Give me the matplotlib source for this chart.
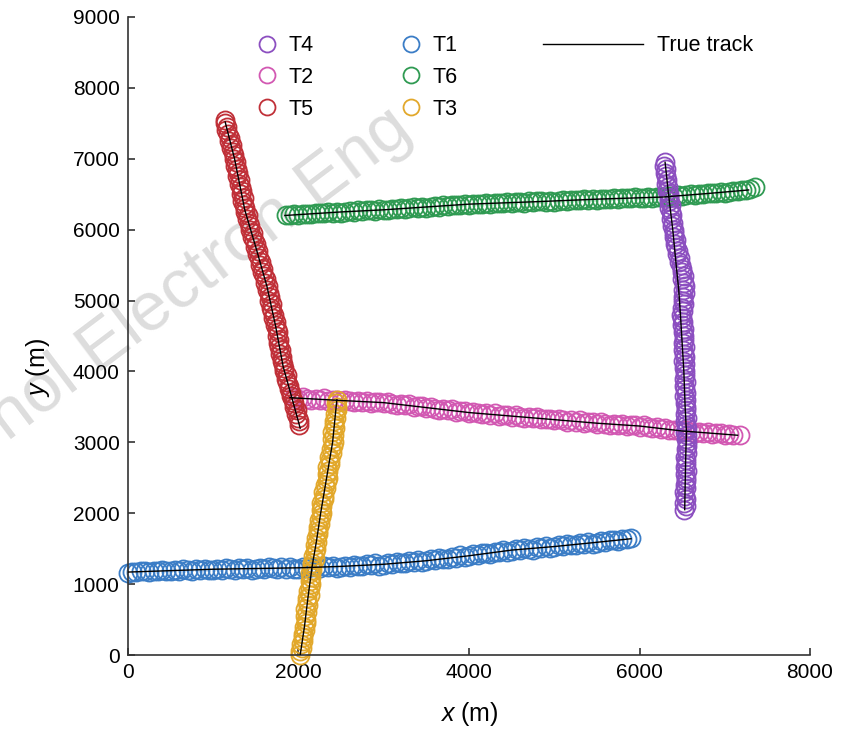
import matplotlib
matplotlib.use("Agg")
import matplotlib.pyplot as plt
from matplotlib.lines import Line2D

plt.rcParams['font.family'] = ['Liberation Sans', 'DejaVu Sans']
plt.rcParams['mathtext.fontset'] = 'custom'
plt.rcParams['mathtext.it'] = 'Liberation Sans:italic'
plt.rcParams['mathtext.rm'] = 'Liberation Sans'

t1_x = [0, 50, 100, 150, 200, 250, 300, 350, 400, 450, 500, 550, 600, 650, 700, 750, 800,
        850, 900, 950, 1000, 1050, 1100, 1150, 1200, 1250, 1300, 1350, 1400, 1450, 1500,
        1550, 1600, 1650, 1700, 1750, 1800, 1850, 1900, 1950, 2000, 2050, 2100, 2150, 2200,
        2250, 2300, 2350, 2400, 2450, 2500, 2550, 2600, 2650, 2700, 2750, 2800, 2850, 2900,
        2950, 3000, 3050, 3100, 3150, 3200, 3250, 3300, 3350, 3400, 3450, 3500, 3550, 3600,
        3650, 3700, 3750, 3800, 3850, 3900, 3950, 4000, 4050, 4100, 4150, 4200, 4250, 4300,
        4350, 4400, 4450, 4500, 4550, 4600, 4650, 4700, 4750, 4800, 4850, 4900, 4950, 5000,
        5050, 5100, 5150, 5200, 5250, 5300, 5350, 5400, 5450, 5500, 5550, 5600, 5650, 5700,
        5750, 5800, 5850, 5900]
t1_y = [1150, 1175, 1165, 1185, 1178, 1170, 1192, 1180, 1200, 1178, 1185, 1200, 1185, 1210,
        1198, 1185, 1210, 1200, 1220, 1195, 1205, 1220, 1200, 1225, 1212, 1200, 1225, 1212,
        1230, 1205, 1215, 1232, 1210, 1236, 1222, 1208, 1235, 1220, 1245, 1212, 1220, 1240,
        1222, 1248, 1235, 1222, 1250, 1238, 1262, 1230, 1242, 1262, 1245, 1275, 1262, 1250,
        1280, 1268, 1292, 1262, 1272, 1295, 1280, 1310, 1302, 1292, 1322, 1312, 1340, 1312,
        1322, 1348, 1335, 1365, 1360, 1350, 1385, 1375, 1405, 1380, 1392, 1420, 1410, 1442,
        1435, 1425, 1460, 1452, 1482, 1455, 1470, 1495, 1480, 1508, 1500, 1488, 1518, 1505,
        1535, 1505, 1520, 1545, 1532, 1562, 1555, 1545, 1578, 1568, 1600, 1570, 1580, 1605,
        1595, 1628, 1620, 1610, 1642, 1630, 1648]

t2_x = [1950, 2000, 2050, 2100, 2150, 2200, 2250, 2300, 2350, 2400, 2450, 2500, 2550, 2600,
        2650, 2700, 2750, 2800, 2850, 2900, 2950, 3000, 3050, 3100, 3150, 3200, 3250, 3300,
        3350, 3400, 3450, 3500, 3550, 3600, 3650, 3700, 3750, 3800, 3850, 3900, 3950, 4000,
        4050, 4100, 4150, 4200, 4250, 4300, 4350, 4400, 4450, 4500, 4550, 4600, 4650, 4700,
        4750, 4800, 4850, 4900, 4950, 5000, 5050, 5100, 5150, 5200, 5250, 5300, 5350, 5400,
        5450, 5500, 5550, 5600, 5650, 5700, 5750, 5800, 5850, 5900, 5950, 6000, 6050, 6100,
        6150, 6200, 6250, 6300, 6350, 6400, 6450, 6500, 6550, 6600, 6650, 6700, 6750, 6800,
        6850, 6900, 6950, 7000, 7050, 7100, 7180]
t2_y = [3637, 3615, 3635, 3617, 3601, 3618, 3602, 3621, 3590, 3600, 3603, 3582, 3602, 3584,
        3569, 3586, 3570, 3590, 3559, 3569, 3573, 3552, 3568, 3546, 3527, 3540, 3520, 3536,
        3501, 3507, 3507, 3482, 3498, 3476, 3457, 3470, 3450, 3466, 3431, 3437, 3437, 3412,
        3430, 3410, 3393, 3408, 3390, 3408, 3375, 3383, 3385, 3362, 3380, 3360, 3343, 3358,
        3340, 3358, 3325, 3333, 3335, 3312, 3330, 3310, 3293, 3308, 3290, 3308, 3275, 3283,
        3285, 3262, 3281, 3262, 3246, 3262, 3245, 3264, 3232, 3241, 3244, 3222, 3238, 3216,
        3197, 3210, 3190, 3206, 3171, 3177, 3177, 3152, 3170, 3151, 3134, 3150, 3132, 3150,
        3118, 3126, 3128, 3106, 3120, 3105, 3100]

t3_x = [2015, 2018, 2037, 2024, 2055, 2051, 2048, 2079, 2065, 2083, 2092, 2077, 2095, 2080,
        2110, 2105, 2100, 2131, 2116, 2135, 2144, 2130, 2148, 2134, 2164, 2160, 2157, 2189,
        2176, 2197, 2208, 2195, 2215, 2201, 2233, 2229, 2225, 2256, 2243, 2262, 2272, 2259,
        2279, 2266, 2298, 2295, 2292, 2324, 2311, 2331, 2342, 2329, 2349, 2336, 2368, 2365,
        2362, 2394, 2381, 2401, 2412, 2396, 2413, 2398, 2427, 2421, 2415, 2444, 2428, 2446,
        2454, 2438, 2455]
t3_y = [0, 50, 100, 150, 200, 250, 300, 350, 400, 450, 500, 550, 600, 650, 700, 750, 800,
        850, 900, 950, 1000, 1050, 1100, 1150, 1200, 1250, 1300, 1350, 1400, 1450, 1500,
        1550, 1600, 1650, 1700, 1750, 1800, 1850, 1900, 1950, 2000, 2050, 2100, 2150, 2200,
        2250, 2300, 2350, 2400, 2450, 2500, 2550, 2600, 2650, 2700, 2750, 2800, 2850, 2900,
        2950, 3000, 3050, 3100, 3150, 3200, 3250, 3300, 3350, 3400, 3450, 3500, 3550, 3600]

t4_x = [6299, 6290, 6313, 6296, 6311, 6322, 6309, 6335, 6326, 6340, 6349, 6341, 6365, 6349,
        6365, 6377, 6365, 6393, 6385, 6400, 6410, 6404, 6429, 6415, 6432, 6446, 6438, 6470,
        6466, 6485, 6498, 6494, 6518, 6503, 6519, 6531, 6509, 6528, 6510, 6515, 6516, 6499,
        6515, 6490, 6502, 6510, 6493, 6518, 6505, 6516, 6521, 6509, 6529, 6509, 6521, 6529,
        6512, 6536, 6524, 6535, 6539, 6526, 6545, 6524, 6535, 6542, 6525, 6548, 6535, 6545,
        6550, 6537, 6557, 6537, 6548, 6556, 6538, 6559, 6545, 6553, 6556, 6541, 6559, 6536,
        6546, 6551, 6532, 6553, 6538, 6546, 6548, 6533, 6550, 6527, 6535, 6540, 6521, 6542,
        6526]
t4_y = [6950, 6900, 6850, 6800, 6750, 6700, 6650, 6600, 6550, 6500, 6450, 6400, 6350, 6300,
        6250, 6200, 6150, 6100, 6050, 6000, 5950, 5900, 5850, 5800, 5750, 5700, 5650, 5600,
        5550, 5500, 5450, 5400, 5350, 5300, 5250, 5200, 5150, 5100, 5050, 5000, 4950, 4900,
        4850, 4800, 4750, 4700, 4650, 4600, 4550, 4500, 4450, 4400, 4350, 4300, 4250, 4200,
        4150, 4100, 4050, 4000, 3950, 3900, 3850, 3800, 3750, 3700, 3650, 3600, 3550, 3500,
        3450, 3400, 3350, 3300, 3250, 3200, 3150, 3100, 3050, 3000, 2950, 2900, 2850, 2800,
        2750, 2700, 2650, 2600, 2550, 2500, 2450, 2400, 2350, 2300, 2250, 2200, 2150, 2100,
        2050]

t5_x = [1140, 1133, 1166, 1151, 1174, 1193, 1185, 1218, 1212, 1234, 1249, 1242, 1272, 1255,
        1275, 1291, 1282, 1312, 1303, 1323, 1335, 1325, 1356, 1338, 1358, 1375, 1367, 1402,
        1397, 1420, 1437, 1431, 1465, 1451, 1476, 1496, 1490, 1524, 1519, 1541, 1557, 1551,
        1585, 1571, 1595, 1614, 1608, 1642, 1634, 1654, 1667, 1658, 1689, 1673, 1694, 1711,
        1702, 1733, 1725, 1744, 1756, 1745, 1775, 1757, 1777, 1792, 1782, 1812, 1803, 1821,
        1835, 1828, 1862, 1848, 1871, 1891, 1884, 1918, 1913, 1936, 1952, 1946, 1980, 1967,
        1991, 2011, 2005]
t5_y = [7550, 7500, 7450, 7400, 7350, 7300, 7250, 7200, 7150, 7100, 7050, 7000, 6950, 6900,
        6850, 6800, 6750, 6700, 6650, 6600, 6550, 6500, 6450, 6400, 6350, 6300, 6250, 6200,
        6150, 6100, 6050, 6000, 5950, 5900, 5850, 5800, 5750, 5700, 5650, 5600, 5550, 5500,
        5450, 5400, 5350, 5300, 5250, 5200, 5150, 5100, 5050, 5000, 4950, 4900, 4850, 4800,
        4750, 4700, 4650, 4600, 4550, 4500, 4450, 4400, 4350, 4300, 4250, 4200, 4150, 4100,
        4050, 4000, 3950, 3900, 3850, 3800, 3750, 3700, 3650, 3600, 3550, 3500, 3450, 3400,
        3350, 3300, 3250]

t6_x = [1850, 1900, 1950, 2000, 2050, 2100, 2150, 2200, 2250, 2300, 2350, 2400, 2450, 2500,
        2550, 2600, 2650, 2700, 2750, 2800, 2850, 2900, 2950, 3000, 3050, 3100, 3150, 3200,
        3250, 3300, 3350, 3400, 3450, 3500, 3550, 3600, 3650, 3700, 3750, 3800, 3850, 3900,
        3950, 4000, 4050, 4100, 4150, 4200, 4250, 4300, 4350, 4400, 4450, 4500, 4550, 4600,
        4650, 4700, 4750, 4800, 4850, 4900, 4950, 5000, 5050, 5100, 5150, 5200, 5250, 5300,
        5350, 5400, 5450, 5500, 5550, 5600, 5650, 5700, 5750, 5800, 5850, 5900, 5950, 6000,
        6050, 6100, 6150, 6200, 6250, 6300, 6350, 6400, 6450, 6500, 6550, 6600, 6650, 6700,
        6750, 6800, 6850, 6900, 6950, 7000, 7050, 7100, 7150, 7200, 7250, 7300, 7360]
t6_y = [6207, 6200, 6216, 6204, 6216, 6225, 6218, 6236, 6228, 6238, 6245, 6237, 6254, 6242,
        6253, 6261, 6253, 6271, 6262, 6271, 6277, 6269, 6285, 6272, 6284, 6293, 6286, 6305,
        6297, 6307, 6314, 6307, 6324, 6312, 6324, 6333, 6326, 6345, 6337, 6347, 6354, 6347,
        6364, 6352, 6362, 6369, 6360, 6378, 6368, 6376, 6381, 6373, 6388, 6374, 6384, 6391,
        6383, 6400, 6390, 6398, 6404, 6395, 6411, 6397, 6408, 6415, 6407, 6424, 6415, 6423,
        6429, 6420, 6436, 6422, 6432, 6439, 6430, 6447, 6437, 6445, 6450, 6441, 6456, 6442,
        6451, 6458, 6449, 6466, 6456, 6466, 6473, 6467, 6484, 6473, 6486, 6496, 6489, 6509,
        6502, 6513, 6521, 6515, 6534, 6523, 6536, 6546, 6540, 6561, 6554, 6570, 6595]

# true tracks (black lines)
true1_x = [0, 1000, 2000, 2500, 3000, 3500, 4000, 4500, 5000, 5500, 5900]
true1_y = [1170, 1210, 1230, 1250, 1280, 1330, 1400, 1480, 1530, 1590, 1640]
true2_x = [1900, 2500, 3000, 3500, 4000, 4500, 5000, 5500, 6000, 6500, 7150]
true2_y = [3630, 3590, 3560, 3490, 3420, 3370, 3320, 3270, 3230, 3160, 3100]
true3_x = [2020, 2070, 2110, 2160, 2210, 2260, 2330, 2400, 2450]
true3_y = [0, 400, 800, 1250, 1600, 2000, 2500, 3000, 3600]
true4_x = [6300, 6340, 6390, 6430, 6460, 6480, 6500, 6520, 6535, 6550, 6540, 6530]
true4_y = [6950, 6500, 6000, 5500, 5150, 4800, 4400, 4000, 3500, 3150, 2700, 2050]
true5_x = [1140, 1250, 1370, 1500, 1630, 1730, 1820, 1920, 2020]
true5_y = [7520, 7000, 6280, 5750, 5200, 4650, 4070, 3640, 3200]
true6_x = [1840, 2500, 3000, 3500, 4000, 4800, 5500, 6270, 6800, 7280]
true6_y = [6200, 6250, 6280, 6320, 6360, 6395, 6430, 6460, 6510, 6560]

colors = {'T1': '#3b7dc6', 'T2': '#d258b2', 'T3': '#e2a82b',
          'T4': '#8c4fc0', 'T5': '#c03038', 'T6': '#2f9a52'}

fig = plt.figure(figsize=(8.6, 7.29), dpi=100)
ax = fig.add_axes([0.1488, 0.1015, 0.7931, 0.8752])
ax.set_facecolor('none')
ax.set_zorder(1)

# watermark, behind the axes
fig.text(0.482, 0.815, 'nol Electron Eng', fontsize=50,
         color='#dddddd', rotation=37, rotation_mode='anchor',
         ha='right', va='baseline', zorder=0)

meas = [('T1', t1_x, t1_y), ('T2', t2_x, t2_y), ('T6', t6_x, t6_y),
        ('T4', t4_x, t4_y), ('T5', t5_x, t5_y), ('T3', t3_x, t3_y)]
for name, xs, ys in meas:
    ax.plot(xs, ys, linestyle='none', marker='o', ms=13, mfc='none',
            mec=colors[name], mew=1.3, clip_on=False)

for xs, ys in [(true1_x, true1_y), (true2_x, true2_y), (true3_x, true3_y),
               (true4_x, true4_y), (true5_x, true5_y), (true6_x, true6_y)]:
    ax.plot(xs, ys, color='black', lw=1.0, zorder=5)

ax.set_xlim(0, 8000)
ax.set_ylim(0, 9000)
ax.set_xticks([0, 2000, 4000, 6000, 8000])
ax.set_yticks(range(0, 9001, 1000))
ax.spines['top'].set_visible(False)
ax.spines['right'].set_visible(False)
for s in ['left', 'bottom']:
    ax.spines[s].set_linewidth(1.2)
    ax.spines[s].set_color('#333333')
ax.tick_params(direction='in', length=5, width=1.2, color='#333333',
               labelsize=15, pad=6)
ax.set_xlabel('$x$ (m)', fontsize=18, labelpad=13)
ax.set_ylabel('$y$ (m)', fontsize=18)
ax.yaxis.set_label_coords(-0.112, 0.45)

order = ['T4', 'T2', 'T5', 'T1', 'T6', 'T3']
handles = [Line2D([], [], linestyle='none', marker='o', ms=11.5, mfc='none',
                  mec=colors[n], mew=1.3) for n in order]
leg1 = ax.legend(handles, order, ncol=2, frameon=False, fontsize=15.5,
                 loc='upper left', bbox_to_anchor=(0.16, 1.002),
                 handlelength=1.0, handletextpad=0.5, columnspacing=4.0,
                 labelspacing=0.5)
ax.add_artist(leg1)
ax.legend([Line2D([], [], color='black', lw=1.0)], ['True track'], frameon=False,
          fontsize=15.5, loc='upper left', bbox_to_anchor=(0.58, 1.002),
          handlelength=4.65, handletextpad=0.65)

fig.savefig('out.png', dpi=100)
